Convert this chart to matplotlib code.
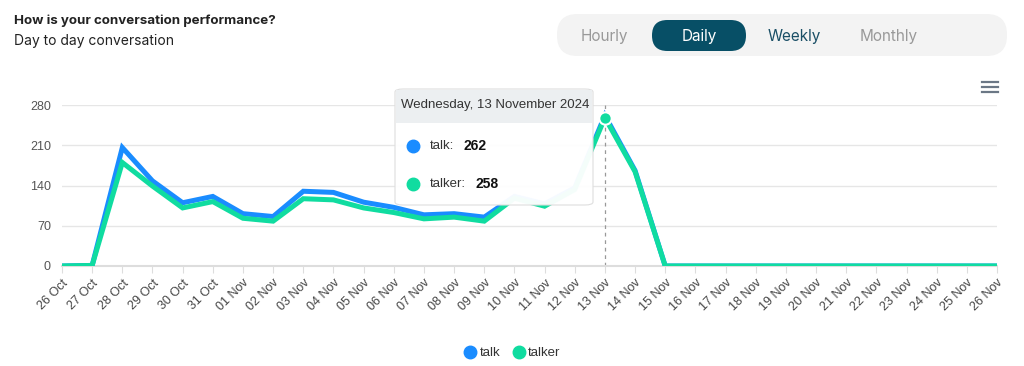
import matplotlib.pyplot as plt
from matplotlib.patches import FancyBboxPatch, Rectangle
from matplotlib.lines import Line2D

plt.rcParams["font.family"] = ["Liberation Sans", "DejaVu Sans"]

days = ["26 Oct", "27 Oct", "28 Oct", "29 Oct", "30 Oct", "31 Oct",
        "01 Nov", "02 Nov", "03 Nov", "04 Nov", "05 Nov", "06 Nov",
        "07 Nov", "08 Nov", "09 Nov", "10 Nov", "11 Nov", "12 Nov",
        "13 Nov", "14 Nov", "15 Nov", "16 Nov", "17 Nov", "18 Nov",
        "19 Nov", "20 Nov", "21 Nov", "22 Nov", "23 Nov", "24 Nov",
        "25 Nov", "26 Nov"]
talk = [0, 1, 206, 148, 110, 121, 91, 86, 130, 128, 111, 102,
        89, 91, 85, 121, 108, 136, 262, 166, 0, 0, 0, 0,
        0, 0, 0, 0, 0, 0, 0, 0]
talker = [0, 1, 180, 139, 101, 112, 83, 78, 117, 115, 101, 93,
          82, 85, 78, 118, 104, 133, 258, 164, 0, 0, 0, 0,
          0, 0, 0, 0, 0, 0, 0, 0]
yticks = [0, 70, 140, 210, 280]
periods = ["Hourly", "Daily", "Weekly", "Monthly"]
hover = 18  # index of 13 Nov

BLUE = "#1a8cff"
GREEN = "#10dca0"
W, H = 1024, 366


def px(x, y):
    return x / W, 1 - y / H


fig = plt.figure(figsize=(W / 100, H / 100), dpi=100)
fig.patch.set_facecolor("white")
ax = fig.add_axes([62 / W, 1 - 266 / H, (997 - 62) / W, (266 - 105) / H])

x = list(range(len(days)))
ax.plot(x, talk, color=BLUE, lw=3.6, solid_joinstyle="miter", zorder=3)
ax.plot(x, talker, color=GREEN, lw=3.6, solid_joinstyle="miter", zorder=4)
ax.axvline(hover, color="#999999", lw=0.9, ls=(0, (3, 3)), zorder=2)
ax.scatter([hover], [talker[hover]], s=80, color=GREEN, edgecolor="white",
           linewidth=1.5, zorder=6)

ax.set_xlim(0, len(days) - 1)
ax.set_ylim(0, 280)
ax.set_yticks(yticks)
ax.set_yticklabels([str(v) for v in yticks], fontsize=9, color="#555555")
ax.set_xticks(x)
ax.set_xticklabels(days, rotation=45, ha="right", rotation_mode="anchor",
                   fontsize=9, color="#444444")
ax.tick_params(axis="y", length=0, pad=8)
ax.tick_params(axis="x", length=5, color="#dddddd", pad=3)
ax.grid(axis="y", color="#e6e6e6", lw=1)
ax.set_axisbelow(True)
for s in ["top", "right", "left"]:
    ax.spines[s].set_visible(False)
ax.spines["bottom"].set_color("#dddddd")
ax.spines["bottom"].set_linewidth(1.5)
ax.set_facecolor("none")

# titles
fig.text(*px(14, 21), "How is your conversation performance?", fontsize=9.6,
         fontweight="bold", color="#222222", va="center", family="Inter")
fig.text(*px(14, 41), "Day to day conversation", fontsize=10,
         color="#222222", va="center", family="Inter")

# period toggle
x0, y0 = px(557, 56)
x1, y1 = px(1007, 14)
fig.patches.append(FancyBboxPatch((x0, y0), x1 - x0, y1 - y0,
                                  boxstyle="round,pad=0,rounding_size=0.02",
                                  mutation_aspect=W / H,
                                  transform=fig.transFigure,
                                  facecolor="#f3f3f3", edgecolor="none"))
x0, y0 = px(652, 51)
x1, y1 = px(746, 20)
fig.patches.append(FancyBboxPatch((x0, y0), x1 - x0, y1 - y0,
                                  boxstyle="round,pad=0,rounding_size=0.015",
                                  mutation_aspect=W / H,
                                  transform=fig.transFigure,
                                  facecolor="#074f66", edgecolor="none"))
centers = [604, 699, 794, 889]
colors = ["#999999", "white", "#1a4f66", "#999999"]
for c, lab, col in zip(centers, periods, colors):
    fig.text(*px(c, 36), lab, fontsize=11, color=col, ha="center",
             va="center", family="Inter")

# menu icon
for yy in [82, 87, 92]:
    fig.add_artist(Line2D([982 / W, 998 / W], [1 - yy / H] * 2,
                          color="#6b7785", lw=1.6,
                          transform=fig.transFigure))

# tooltip
x0, y0 = px(395, 205)
x1, y1 = px(593, 89)
fig.patches.append(FancyBboxPatch((x0, y0), x1 - x0, y1 - y0,
                                  boxstyle="round,pad=0,rounding_size=0.008",
                                  transform=fig.transFigure,
                                  facecolor="white", edgecolor="#dddddd",
                                  lw=0.8, alpha=0.96, zorder=10))
hx0, hy0 = px(396, 123)
hx1, hy1 = px(592, 90)
fig.patches.append(Rectangle((hx0, hy0), hx1 - hx0, hy1 - hy0,
                             transform=fig.transFigure,
                             facecolor="#eceff1", edgecolor="none",
                             zorder=11))
fig.text(*px(495, 105), "Wednesday, 13 November 2024", fontsize=9.5,
         color="#333333", ha="center", va="center", zorder=12)
rows = [("talk:", talk[hover], BLUE, 146), ("talker:", talker[hover], GREEN, 184)]
for lab, val, col, yy in rows:
    fig.add_artist(Line2D([413 / W], [1 - yy / H], marker="o", ms=9,
                          color=col, ls="none", transform=fig.transFigure,
                          zorder=12))
    fig.text(*px(430, yy), lab, fontsize=9.5, color="#333333",
             va="center", zorder=12)
    fig.text(*px(430 + (33 if lab == "talk:" else 45), yy), str(val),
             fontsize=10, fontweight="bold", color="#111111",
             va="center", zorder=12)

# legend
handles = [Line2D([], [], marker="o", ls="none", ms=9, color=BLUE),
           Line2D([], [], marker="o", ls="none", ms=9, color=GREEN)]
fig.legend(handles, ["talk", "talker"], loc="center", ncol=2,
           bbox_to_anchor=px(512, 353), frameon=False, fontsize=9.5,
           handletextpad=0.2, columnspacing=0.9, handlelength=1.0,
           labelcolor="#333333")

fig.savefig("out.png", dpi=100)
